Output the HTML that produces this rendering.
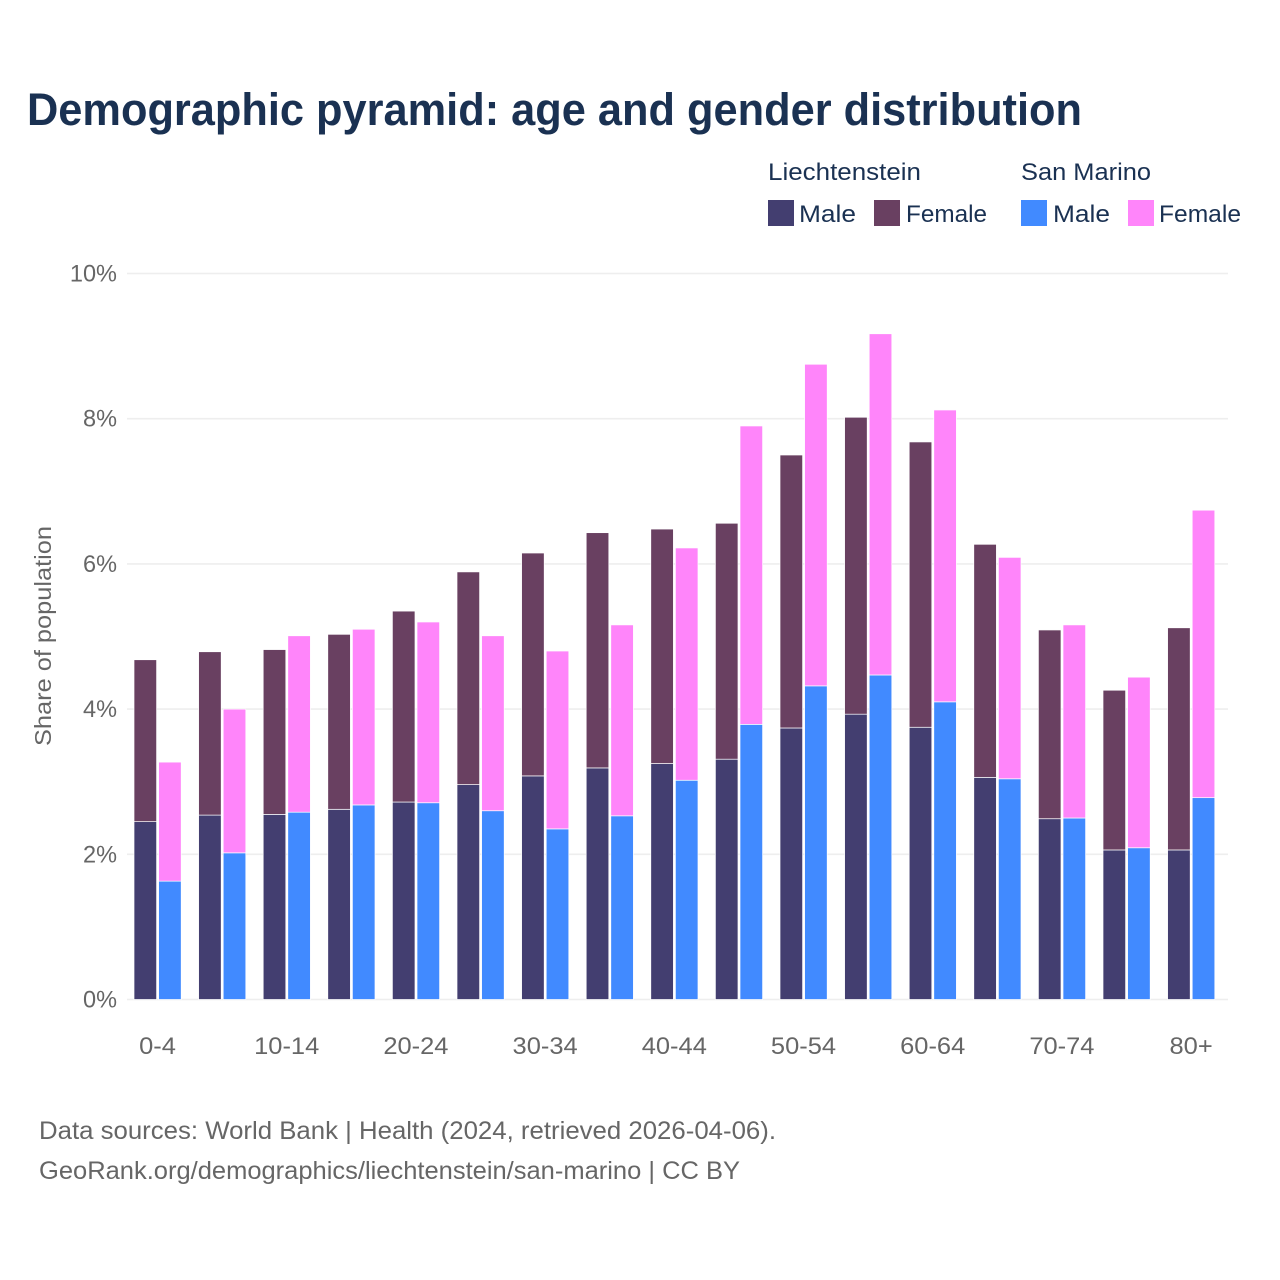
<!DOCTYPE html>
<html>
<head>
<meta charset="utf-8">
<title>Demographic pyramid</title>
<style>
html,body{margin:0;padding:0;background:#fff;}
svg{display:block;font-family:"Liberation Sans",sans-serif;}
</style>
</head>
<body>
<svg id="chart" width="1280" height="1280" viewBox="0 0 1280 1280" xmlns="http://www.w3.org/2000/svg">
  <rect width="1280" height="1280" fill="#ffffff"/>
  <text x="27" y="125" font-size="45" font-weight="700" fill="#1a3152" textLength="1055" lengthAdjust="spacingAndGlyphs">Demographic pyramid: age and gender distribution</text>

  <g font-size="24" fill="#1a3152">
    <text x="768" y="180" textLength="153" lengthAdjust="spacingAndGlyphs">Liechtenstein</text>
    <text x="1021" y="180" textLength="130" lengthAdjust="spacingAndGlyphs">San Marino</text>
    <rect x="768" y="200" width="26" height="26" fill="#433e70"/>
    <text x="799" y="222" textLength="57" lengthAdjust="spacingAndGlyphs">Male</text>
    <rect x="874" y="200" width="26" height="26" fill="#694061"/>
    <text x="906" y="222" textLength="81" lengthAdjust="spacingAndGlyphs">Female</text>
    <rect x="1021" y="200" width="26" height="26" fill="#418aff"/>
    <text x="1053" y="222" textLength="57" lengthAdjust="spacingAndGlyphs">Male</text>
    <rect x="1128" y="200" width="26" height="26" fill="#ff85fa"/>
    <text x="1159" y="222" textLength="82" lengthAdjust="spacingAndGlyphs">Female</text>
  </g>

  <g id="grid"></g>
  <g id="yticks"></g>
  <g id="bars"></g>
  <g id="xticks"></g>

  <text transform="translate(51,746) rotate(-90)" x="0" y="0" font-size="23" fill="#666666" textLength="220" lengthAdjust="spacingAndGlyphs">Share of population</text>

  <g font-size="25" fill="#666666">
    <text x="39" y="1139" textLength="737" lengthAdjust="spacingAndGlyphs">Data sources: World Bank | Health (2024, retrieved 2026-04-06).</text>
    <text x="39" y="1179" textLength="701" lengthAdjust="spacingAndGlyphs">GeoRank.org/demographics/liechtenstein/san-marino | CC BY</text>
  </g>
</svg>
<script>
const categories = ["0-4","5-9","10-14","15-19","20-24","25-29","30-34","35-39","40-44","45-49","50-54","55-59","60-64","65-69","70-74","75-79","80+"];
const hiddenLabels = ["5-9","15-19","25-29","35-39","45-49","55-59","65-69","75-79"];
const liechtensteinMale = [2.45,2.54,2.55,2.62,2.72,2.96,3.08,3.19,3.25,3.31,3.74,3.93,3.75,3.06,2.49,2.06,2.06];
const liechtensteinFemale = [2.23,2.25,2.27,2.41,2.63,2.93,3.07,3.24,3.23,3.25,3.76,4.09,3.93,3.21,2.60,2.20,3.06];
const sanMarinoMale = [1.63,2.02,2.58,2.68,2.71,2.60,2.35,2.53,3.02,3.79,4.32,4.47,4.10,3.04,2.50,2.09,2.78];
const sanMarinoFemale = [1.64,1.98,2.43,2.42,2.49,2.41,2.45,2.63,3.20,4.11,4.43,4.70,4.02,3.05,2.66,2.35,3.96];
const yTicks = [0,2,4,6,8,10];

const NS = "http://www.w3.org/2000/svg";
const yScale = function (v) { return 999.5 - v * 72.6; };
const xCenter = function (i) { return 157.5 + i * 64.6; };
const BAR_W = 22.6;

function make(tag, parent, attrs) {
  const el = document.createElementNS(NS, tag);
  Object.keys(attrs).forEach(function (k) { el.setAttribute(k, attrs[k]); });
  parent.appendChild(el);
  return el;
}
function squeeze(el, factor) {
  const w = el.getComputedTextLength();
  el.setAttribute("textLength", (w * factor).toFixed(1));
  el.setAttribute("lengthAdjust", "spacingAndGlyphs");
}

const grid = document.getElementById("grid");
const yT = document.getElementById("yticks");
yTicks.forEach(function (t) {
  const line = make("line", grid, {x1:127, x2:1228, y1:yScale(t), y2:yScale(t), stroke:"#eeeeee", "stroke-width":1.6});
  
  
  const label = make("text", yT, {x:117, y:yScale(t) + 8, "text-anchor":"end", "font-size":24, fill:"#666666"});
  label.textContent = t + "%";
  
  
  squeeze(label, 0.98);
});

const barsG = document.getElementById("bars");
function stacked(i, left, male, female, maleColor, femaleColor, country) {
  const x = left ? xCenter(i) - 23.5 : xCenter(i) + 1.1;
  const m = make("rect", barsG, {x:x, y:yScale(male[i]), width:BAR_W, height:yScale(0) - yScale(male[i]), fill:maleColor, stroke:"#ffffff", "stroke-width":0.7});
  
  
  const top = male[i] + female[i];
  const f = make("rect", barsG, {x:x, y:yScale(top), width:BAR_W, height:yScale(male[i]) - yScale(top), fill:femaleColor, stroke:"#ffffff", "stroke-width":0.7});
  
  
}
categories.forEach(function (c, i) {
  stacked(i, true, liechtensteinMale, liechtensteinFemale, "#433e70", "#694061", "liechtenstein");
  stacked(i, false, sanMarinoMale, sanMarinoFemale, "#418aff", "#ff85fa", "san-marino");
});

const xT = document.getElementById("xticks");
categories.forEach(function (c, i) {
  if (hiddenLabels.indexOf(c) !== -1) return;
  const label = make("text", xT, {x:xCenter(i), y:1054, "text-anchor":"middle", "font-size":24, fill:"#666666"});
  label.textContent = c;
  
  
  squeeze(label, 1.06);
});
</script>
</body>
</html>
